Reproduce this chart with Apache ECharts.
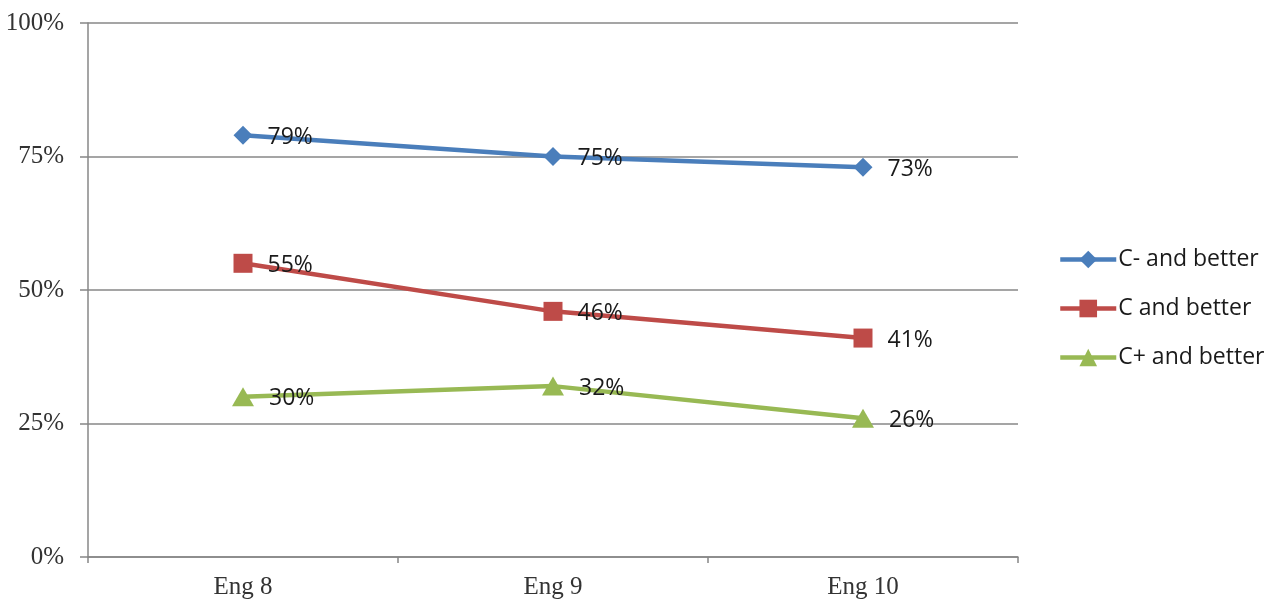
<!DOCTYPE html>
<html>
<head>
<meta charset="utf-8">
<script src="https://cdn.jsdelivr.net/npm/echarts@6/dist/echarts.min.js"></script>
<style>
  html, body { margin: 0; padding: 0; background: #fff; }
  #chart { width: 1280px; height: 604px; }
</style>
</head>
<body>
<div id="chart"></div>
<script>
// Share of students at each grade threshold, by English course
const categories = ['Eng 8', 'Eng 9', 'Eng 10'];
const cMinusAndBetter = [79, 75, 73];
const cAndBetter = [55, 46, 41];
const cPlusAndBetter = [30, 32, 26];
const yTicks = [0, 25, 50, 75, 100];

const gridColor = '#878787';
const serif = '"Liberation Serif", "DejaVu Serif", serif';
const sans = '"Open Sans", "Noto Sans", sans-serif';

function lineSeries(name, data, color, symbol, size) {
  return {
    name: name,
    type: 'line',
    data: data,
    symbol: symbol,
    symbolSize: size,
    lineStyle: { color: color, width: 4.5 },
    itemStyle: { color: color },
    label: {
      show: true,
      position: 'right',
      distance: 15,
      offset: [0, 2],
      formatter: p => p.value + '%',
      fontFamily: sans,
      fontSize: 23,
      color: '#1a1a1a'
    },
    emphasis: { disabled: true },
    animation: false
  };
}

const chart = echarts.init(document.getElementById('chart'));
chart.setOption({
  backgroundColor: '#ffffff',
  animation: false,
  grid: { left: 88, right: 262, top: 23, bottom: 47, containLabel: false },
  legend: {
    orient: 'vertical',
    left: 1058,
    top: 248,
    padding: 0,
    itemWidth: 56,
    itemHeight: 22,
    itemGap: 26,
    lineStyle: { width: 4.5 },
    textStyle: { fontFamily: sans, fontSize: 23, color: '#1a1a1a', padding: [0, 0, 0, -3] },
    data: ['C- and better', 'C and better', 'C+ and better']
  },
  xAxis: {
    type: 'category',
    data: categories,
    boundaryGap: true,
    axisLine: { lineStyle: { color: gridColor, width: 1.5 } },
    axisTick: { show: true, inside: false, length: 6, lineStyle: { color: gridColor, width: 1.5 } },
    axisLabel: { margin: 18, fontFamily: serif, fontSize: 25, color: '#333' },
    splitLine: { show: false }
  },
  yAxis: {
    type: 'value',
    min: yTicks[0],
    max: yTicks[yTicks.length - 1],
    interval: 25,
    axisLine: { show: true, lineStyle: { color: gridColor, width: 1.5 } },
    axisTick: { show: true, length: 8, lineStyle: { color: gridColor, width: 1.5 } },
    axisLabel: { margin: 24, fontFamily: serif, fontSize: 25, color: '#333', formatter: v => v + '%' },
    splitLine: { show: true, lineStyle: { color: gridColor, width: 1.5 } }
  },
  series: [
    lineSeries('C- and better', cMinusAndBetter, '#4A7EBB', 'diamond', [19, 19]),
    lineSeries('C and better', cAndBetter, '#BE4B48', 'rect', [19, 19]),
    lineSeries('C+ and better', cPlusAndBetter, '#98B954', 'triangle', [22, 19])
  ]
});
</script>
</body>
</html>
